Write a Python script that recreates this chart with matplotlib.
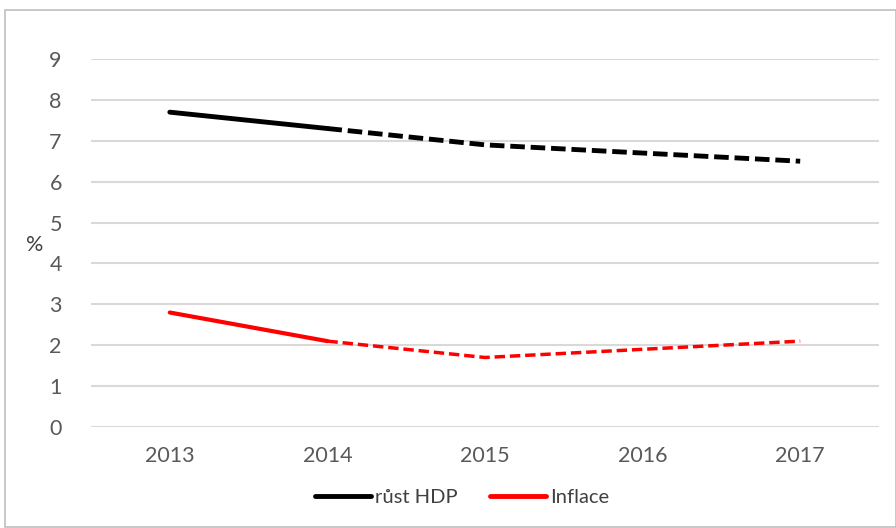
import matplotlib
matplotlib.use("Agg")
import matplotlib.pyplot as plt
from matplotlib.patches import Rectangle
from matplotlib.lines import Line2D

years = ["2013", "2014", "2015", "2016", "2017"]
gdp = [7.7, 7.3, 6.9, 6.7, 6.5]
infl = [2.8, 2.1, 1.7, 1.9, 2.1]
yticks = list(range(0, 10))

plt.rcParams['font.family'] = ['Lato', 'DejaVu Sans']
W, H = 896, 528
fig = plt.figure(figsize=(W/100, H/100), dpi=100)
ax = fig.add_axes([91/W, 1-427/H, (879-91)/W, (427-59)/H])

x = list(range(len(years)))
# solid part (first segment), dashed remainder
ax.plot(x[:2], gdp[:2], color='black', lw=3.5, solid_capstyle='round', zorder=3)
ax.plot(x[1:], gdp[1:], color='black', lw=3.5, ls=(0, (3, 1.2)), zorder=3)
ax.plot(x[:2], infl[:2], color='#ff0000', lw=3, solid_capstyle='round', zorder=3)
ax.plot(x[1:], infl[1:], color='#ff0000', lw=2.5, ls=(0, (3, 1.4)), zorder=3)

ax.set_xlim(-0.5, len(years)-0.5)
ax.set_ylim(0, 9)
ax.set_yticks(yticks)
ax.set_xticks(x)
ax.set_xticklabels(years)
ax.grid(axis='y', color='#d9d9d9', lw=1.5)
ax.set_axisbelow(True)
for s in ax.spines.values():
    s.set_visible(False)
ax.tick_params(length=0, labelsize=15.5, labelcolor='#595959')
ax.tick_params(axis='y', pad=21)
ax.tick_params(axis='x', pad=14)
fig.text(35/W, 1-245/H, '%', fontsize=15.5, color='#404040', ha='center', va='center')

handles = [Line2D([], [], color='black', lw=3.5, solid_capstyle='round'),
           Line2D([], [], color='#ff0000', lw=3.5, solid_capstyle='round')]
fig.legend(handles, ['růst HDP', 'Inflace'], loc='center', bbox_to_anchor=(462/W, 1-497/H),
           ncol=2, frameon=False, fontsize=14.5, handlelength=2.8, handletextpad=0.2,
           columnspacing=1.6, labelcolor='#404040')

fig.patches.append(Rectangle((5/W, 0.002), (W-5)/W, 1-10/H-0.002, transform=fig.transFigure,
                             fill=False, edgecolor='#bfbfbf', lw=1.2))
fig.savefig('out.png', dpi=100, facecolor='white')
